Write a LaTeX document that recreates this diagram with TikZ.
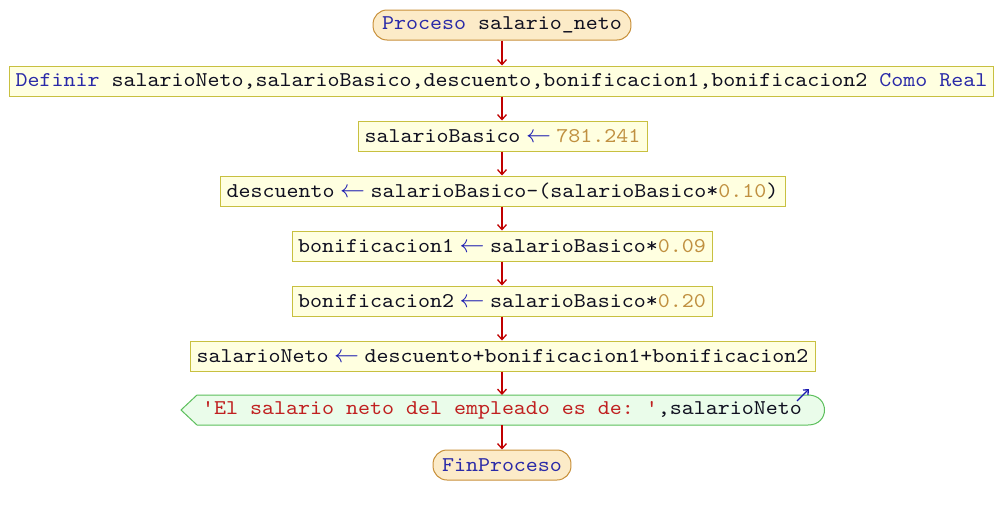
\documentclass[tikz,border=0pt]{standalone}
\usepackage{fontspec}
\setmonofont{lmmono10-regular.otf}[FakeStretch=1.088]
\usetikzlibrary{arrows.meta}
\definecolor{kw}{HTML}{2A2AA8}
\definecolor{num}{HTML}{C09040}
\definecolor{str}{HTML}{C02020}
\definecolor{idn}{HTML}{101020}
\definecolor{asg}{HTML}{1A1AB0}
\definecolor{conn}{HTML}{C00000}
\definecolor{yfill}{HTML}{FFFFE0}
\definecolor{ydraw}{HTML}{C8C040}
\definecolor{pfill}{HTML}{FCEBC8}
\definecolor{pdraw}{HTML}{C8903A}
\definecolor{gfill}{HTML}{EAFCEA}
\definecolor{gdraw}{HTML}{5CBF5C}
\newcommand{\K}[1]{\textcolor{kw}{#1}}
\newcommand{\N}[1]{\textcolor{num}{#1}}
\newcommand{\Sx}[1]{\textcolor{str}{#1}}
\newcommand{\A}{\makebox[12pt][c]{\textcolor{asg}{\fontsize{25pt}{26pt}\selectfont$\leftarrow$}}}
\begin{document}
\begin{tikzpicture}[x=1pt,y=-1pt,
  every node/.style={font=\fontsize{21pt}{23pt}\selectfont\ttfamily, text=idn, inner ysep=0pt, minimum height=30pt, inner xsep=6pt},
  asgbox/.style={draw=ydraw, fill=yfill, line width=1pt},
  procbox/.style={draw=pdraw, fill=pfill, line width=1pt, rounded corners=14pt, inner xsep=9pt},
  conn/.style={draw=conn, line width=1.3pt, -{Straight Barb[length=5pt,width=9pt]}}
]
\useasboundingbox (0,0) rectangle (1004,515);
\node[procbox] (p) at (502,25) {\K{Proceso} salario\_neto};
\node[asgbox, minimum width=983pt] (d) at (501.5,81) {\K{Definir} salarioNeto,salarioBasico,descuento,bonificacion1,bonificacion2 \K{Como} \K{Real}};
\node[asgbox, minimum width=289pt] (a1) at (502.5,136) {salarioBasico \A{} \N{781.241}};
\node[asgbox, minimum width=565pt] (a2) at (502.5,191) {descuento \A{} salarioBasico-(salarioBasico*\N{0.10})};
\node[asgbox, minimum width=420pt] (a3) at (502,246) {bonificacion1 \A{} salarioBasico*\N{0.09}};
\node[asgbox, minimum width=420pt] (a4) at (502,301) {bonificacion2 \A{} salarioBasico*\N{0.20}};
\node[asgbox, minimum width=625pt] (a5) at (502.5,356) {salarioNeto \A{} descuento+bonificacion1+bonificacion2};
% output shape
\coordinate (ol) at (181,410);
\coordinate (otl) at (197,395);
\coordinate (otr) at (808,395);
\coordinate (obl) at (197,425);
\coordinate (obr) at (808,425);
\draw[gdraw, fill=gfill, line width=1pt] (ol) -- (otl) -- (otr) .. controls (830,395) and (830,425) .. (obr) -- (obl) -- cycle;
\node[minimum width=610pt] (o) at (502,410) {\Sx{'El salario neto del empleado es de: '},salarioNeto};
\node[procbox] (f) at (502,465) {\K{FinProceso}};
\coordinate (ba) at (797,401);
\coordinate (bb) at (809,389);
\draw[asg, line width=1.3pt, -{Straight Barb[length=4pt,width=7pt]}] (ba) -- (bb);
% connectors
\draw[conn] (p.south) -- (d.north -| p.south);
\draw[conn] (d.south -| p.south) -- (a1.north -| p.south);
\draw[conn] (a1.south -| p.south) -- (a2.north -| p.south);
\draw[conn] (a2.south -| p.south) -- (a3.north -| p.south);
\draw[conn] (a3.south -| p.south) -- (a4.north -| p.south);
\draw[conn] (a4.south -| p.south) -- (a5.north -| p.south);
\draw[conn] (a5.south -| p.south) -- (otl -| p.south);
\draw[conn] (obl -| p.south) -- (f.north);
\end{tikzpicture}
\end{document}
